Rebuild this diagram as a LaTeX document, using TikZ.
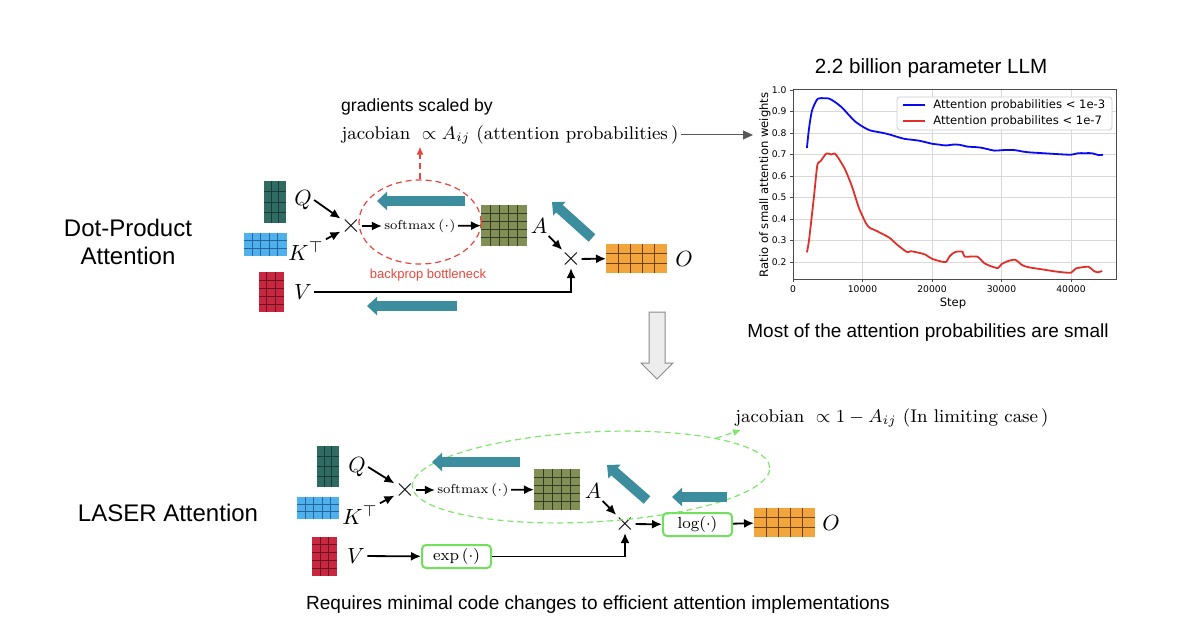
\documentclass[tikz,border=0pt]{standalone}
\usepackage{fix-cm}
\usepackage{fontspec}
\newfontfamily\arial{Liberation Sans}
\newfontfamily\dejavu{DejaVu Sans}
\usetikzlibrary{arrows.meta,shapes.geometric,calc}
\definecolor{Qfill}{HTML}{2F6B62}\definecolor{Qline}{HTML}{183C36}
\definecolor{Kfill}{HTML}{4FB0EE}\definecolor{Kline}{HTML}{26659A}
\definecolor{Vfill}{HTML}{C8283F}\definecolor{Vline}{HTML}{6E1220}
\definecolor{Afill}{HTML}{818E55}\definecolor{Aline}{HTML}{353B1E}
\definecolor{Ofill}{HTML}{F2A53C}\definecolor{Oline}{HTML}{6E420E}
\definecolor{tealarr}{HTML}{3C8E9E}
\definecolor{redd}{HTML}{E8473D}
\definecolor{greend}{HTML}{7EE66B}
\definecolor{greenbox}{HTML}{72E05C}
\definecolor{plotblue}{HTML}{0A0AF0}
\definecolor{plotred}{HTML}{E0302A}
\newcommand{\gmat}[9]{%
  \node[fill=#8, minimum width=#4*0.5pt, minimum height=#5*0.5pt, inner sep=0pt, outer sep=0pt] (#1) at (#2,#3) {};
  \foreach \i in {2,...,#6} \draw[#9, line width=0.5pt] ($(#1.south west)!{(\i-1)/#6}!(#1.south east)$) -- ($(#1.north west)!{(\i-1)/#6}!(#1.north east)$);
  \foreach \j in {2,...,#7} \draw[#9, line width=0.5pt] ($(#1.south west)!{(\j-1)/#7}!(#1.north west)$) -- ($(#1.south east)!{(\j-1)/#7}!(#1.north east)$);
}
\begin{document}
\begin{tikzpicture}[x=0.5pt,y=-0.5pt,
  lbl/.style={font=\fontsize{11}{11}\selectfont, inner sep=1pt},
  crossn/.style={font=\fontsize{13}{13}\selectfont, inner sep=0pt},
  arr/.style={line width=0.9pt, -{Latex[length=5pt,width=4.5pt]}},
  blk/.style={line width=5pt, draw=tealarr, -{Triangle[length=5pt,width=9pt]}},
  fbox/.style={draw=greenbox, line width=1pt, rounded corners=2pt, minimum width=34.5pt, minimum height=11.5pt, inner sep=0pt, font=\fontsize{8}{8}\selectfont},
  sanslbl/.style={font=\arial\fontsize{12}{14}\selectfont, align=center},
  tick/.style={font=\dejavu\fontsize{4.6}{5}\selectfont, inner sep=1.5pt}
]
\useasboundingbox (0,0) rectangle (1200,631);

% ---------------- top: Dot-Product Attention ----------------
\node[sanslbl] (dpa) at (128,242) {Dot-Product\\Attention};

\gmat{Qm}{275}{202}{22}{41}{3}{4}{Qfill}{Qline}
\gmat{Km}{265}{244.5}{43}{23}{5}{3}{Kfill}{Kline}
\gmat{Vm}{271}{292}{25}{40}{3}{5}{Vfill}{Vline}
\gmat{Am}{504}{225.5}{46}{41}{5}{5}{Afill}{Aline}
\gmat{Om}{636.5}{258.5}{61}{29}{5}{3}{Ofill}{Oline}

\node[lbl] (Ql) at (303,200) {$Q$};
\node[lbl] (Kl) at (306,251) {$K^{\top}$};
\node[lbl] (Vl) at (303,292) {$V$};
\node[lbl] (Al) at (539,226) {$A$};
\node[lbl] (Ol) at (684,259) {$O$};
\node[crossn] (x1) at (351,226) {$\times$};
\node[crossn] (x2) at (571,259) {$\times$};
\node[font=\fontsize{6.5}{7}\selectfont, inner sep=1pt] (sm) at (420,226) {$\mathrm{softmax}\,(\cdot)$};

\node[draw=redd, line width=0.6pt, dash pattern=on 3pt off 2pt, ellipse, minimum width=61pt, minimum height=42pt, inner sep=0pt] (bott) at (420,222) {};
\node[font=\arial\fontsize{6.5}{7}\selectfont, text=redd] (bn) at (428,275) {backprop bottleneck};
\node[font=\arial\fontsize{8.8}{9}\selectfont] (grad) at (417,107) {gradients scaled by};
\node[font=\fontsize{9.2}{10}\selectfont, inner sep=1pt] (jac1) at (510,135) {$\mathrm{jacobian}\ \propto A_{ij}\ (\mathrm{attention\ probabilities}\,)$};

\draw[arr] (Ql.east) -- (x1);
\draw[arr] (Kl.north east) -- (x1);
\draw[arr] (x1) -- (sm);
\draw[arr] (sm) -- (Am);
\draw[arr] (Al) -- (x2);
\draw[arr] (x2) -- (Om);
\draw[arr] (Vl.east) -| (x2.south);
\draw[redd, line width=0.6pt, dash pattern=on 3pt off 2pt, -{Latex[length=4pt,width=3.5pt]}] (bott.north) -- (bott.north |- jac1.south);

\coordinate (plotin) at (753,135);
\draw[black!65, line width=0.5pt, -{Triangle[length=5pt,width=4.5pt]}] (jac1.east) -- (plotin);

\coordinate (b1t) at (465,201); \coordinate (b1h) at (377,201);
\coordinate (b2t) at (592,238); \coordinate (b2h) at (552,202);
\coordinate (b3t) at (457,306); \coordinate (b3h) at (367,306);
\draw[blk] (b1t) -- (b1h);
\draw[blk] (b2t) -- (b2h);
\draw[blk] (b3t) -- (b3h);

% ---------------- plot ----------------
\node[font=\arial\fontsize{10.3}{11}\selectfont] (ptitle) at (931,68) {2.2 billion parameter LLM};
\begin{scope}[shift={(793,305)}, x=3.475pt, y=107.5pt]
  \foreach \xx in {10,20,30,40} \draw[black!15, line width=0.4pt] (\xx,0.118) -- (\xx,1.0);
  \foreach \yy in {0.2,0.3,0.4,0.5,0.6,0.7,0.8,0.9} \draw[black!15, line width=0.4pt] (0,\yy) -- (46.5,\yy);
  \draw[black!70, line width=0.5pt] (0,0.118) rectangle (46.5,1.0);
  \foreach \xx/\lab in {0/0,10/10000,20/20000,30/30000,40/40000} {
    \draw[black!70, line width=0.4pt] (\xx,0.118) -- ++(0,-0.012);
    \node[tick, anchor=north] at (\xx,0.106) {\lab};
  }
  \foreach \yy/\lab in {0.2/0.2,0.3/0.3,0.4/0.4,0.5/0.5,0.6/0.6,0.7/0.7,0.8/0.8,0.9/0.9,1.0/1.0} {
    \draw[black!70, line width=0.4pt] (0,\yy) -- ++(-0.45,0);
    \node[tick, anchor=east] at (-0.45,\yy) {\lab};
  }
  \draw[plotblue, line width=0.9pt, line join=round] plot[smooth, tension=0.5] coordinates {
    (2.0,0.73) (2.3,0.82) (2.7,0.9) (3.2,0.94) (3.6,0.96) (4.5,0.962) (5.2,0.96) (6,0.945) (7,0.92) (8,0.885) (9,0.852) (10,0.83) (11,0.813) (12,0.806) (13,0.8) (14,0.792) (15,0.782) (16,0.773) (17,0.769) (18,0.765) (19,0.758) (20,0.75) (21,0.746) (22,0.742) (23,0.746) (24,0.745) (25,0.737) (26,0.735) (27,0.732) (28,0.725) (29,0.718) (30,0.72) (31,0.721) (32,0.72) (33,0.714) (34,0.71) (36,0.706) (38,0.702) (40,0.699) (41,0.706) (42,0.706) (43,0.706) (44,0.697) (44.6,0.699)};
  \draw[plotred, line width=0.9pt, line join=round] plot[smooth, tension=0.4] coordinates {
    (2.0,0.245) (2.3,0.3) (3.0,0.5) (3.5,0.65) (4.0,0.67) (4.8,0.705) (5.5,0.7) (6.0,0.705) (6.5,0.685) (7.5,0.63) (8.5,0.55) (9.5,0.45) (10.5,0.38) (11,0.36) (12,0.345) (13.5,0.32) (14,0.31) (15,0.28) (16,0.255) (16.5,0.245) (17,0.25) (18.5,0.24) (19,0.235) (20,0.215) (21,0.205) (22,0.2) (22.5,0.225) (23,0.24) (23.5,0.248) (24.4,0.248) (24.7,0.225) (26.5,0.225) (27.5,0.195) (28.5,0.18) (29.5,0.172) (30,0.19) (31,0.205) (32,0.21) (33,0.185) (34,0.175) (36,0.165) (38,0.155) (40,0.15) (40.7,0.17) (42.5,0.178) (43.2,0.16) (43.8,0.152) (44.5,0.158)};
\end{scope}
\node[font=\dejavu\fontsize{5.8}{6}\selectfont] (steplbl) at (953,303) {Step};
\node[font=\dejavu\fontsize{5.8}{6}\selectfont, rotate=90] (ylbl) at (765,185) {Ratio of small attention weights};
\draw[black!20, fill=white, line width=0.4pt, rounded corners=1.5pt] (897,97) rectangle (1112,130);
\coordinate (lgBa) at (903,104); \coordinate (lgBb) at (925,106);
\coordinate (lgRa) at (903,120.5); \coordinate (lgRb) at (925,122.5);
\fill[plotblue] (lgBa) rectangle (lgBb);
\fill[plotred] (lgRa) rectangle (lgRb);
\node[font=\dejavu\fontsize{5.8}{6}\selectfont, anchor=west, inner sep=0pt] (lt1) at (933,105) {Attention probabilities < 1e-3};
\node[font=\dejavu\fontsize{5.8}{6}\selectfont, anchor=west, inner sep=0pt] (lt2) at (933,121.5) {Attention probabilites < 1e-7};
\node[font=\arial\fontsize{9.5}{10}\selectfont] (most) at (928,333) {Most of the attention probabilities are small};

% ---------------- down arrow ----------------
\draw[black!45, fill=black!7, line width=0.5pt] (649,312) -- (665,312) -- (665,363) -- (673,363) -- (657,379) -- (641,363) -- (649,363) -- cycle;

% ---------------- bottom: LASER ----------------
\node[sanslbl] (laser) at (168,513) {LASER Attention};

\gmat{Qm2}{328}{466.5}{22}{41}{3}{4}{Qfill}{Qline}
\gmat{Km2}{318}{508}{42}{22}{5}{3}{Kfill}{Kline}
\gmat{Vm2}{324.5}{556.5}{25}{39}{3}{5}{Vfill}{Vline}
\gmat{Am2}{557}{489.5}{46}{41}{5}{5}{Afill}{Aline}
\gmat{Om2}{784.5}{522.5}{61}{29}{5}{3}{Ofill}{Oline}

\node[lbl] (Ql2) at (357,467) {$Q$};
\node[lbl] (Kl2) at (360,515) {$K^{\top}$};
\node[lbl] (Vl2) at (356,556) {$V$};
\node[lbl] (Al2) at (593,491) {$A$};
\node[lbl] (Ol2) at (831,523) {$O$};
\node[crossn] (x3) at (405,490) {$\times$};
\node[crossn] (x4) at (625,524) {$\times$};
\node[font=\fontsize{6.5}{7}\selectfont, inner sep=1pt] (sm2) at (473,490) {$\mathrm{softmax}\,(\cdot)$};
\node[fbox] (logb) at (697.5,524.5) {$\log(\cdot)$};
\node[fbox] (expb) at (456.5,556.5) {$\exp\,(\cdot)$};

\node[draw=greend, line width=0.6pt, dash pattern=on 3pt off 2pt, ellipse, minimum width=179pt, minimum height=45pt, inner sep=0pt, rotate=3] (lim) at (591,477) {};
\node[font=\fontsize{9.2}{10}\selectfont, inner sep=1pt] (jac2) at (892,418) {$\mathrm{jacobian}\ \propto 1-A_{ij}\ (\mathrm{In\ limiting\ case}\,)$};
\coordinate (jtip) at (741,430);
\draw[greend, line width=0.6pt, dash pattern=on 3pt off 2pt, -{Latex[length=4pt,width=3.5pt]}] (lim.north east) -- (jtip);

\draw[arr] (Ql2.east) -- (x3);
\draw[arr] (Kl2.north east) -- (x3);
\draw[arr] (x3) -- (sm2);
\draw[arr] (sm2) -- (Am2);
\draw[arr] (Al2) -- (x4);
\draw[arr] (x4) -- (logb);
\draw[arr] (logb) -- (Om2);
\draw[arr] (Vl2) -- (expb);
\draw[arr] (expb.east) -| (x4.south);

\coordinate (c1t) at (520,462); \coordinate (c1h) at (432,462);
\coordinate (c2t) at (647,500); \coordinate (c2h) at (607,465);
\coordinate (c3t) at (727,497); \coordinate (c3h) at (672,497);
\draw[blk] (c1t) -- (c1h);
\draw[blk] (c2t) -- (c2h);
\draw[blk] (c3t) -- (c3h);

\node[font=\arial\fontsize{9.5}{10}\selectfont] (req) at (598,605) {Requires minimal code changes to efficient attention implementations};
\end{tikzpicture}
\end{document}
